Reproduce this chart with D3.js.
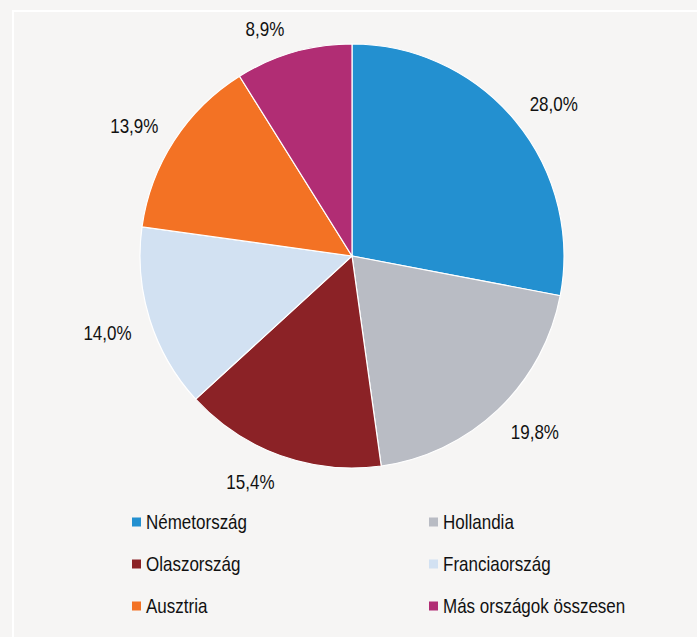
<!DOCTYPE html>
<html>
<head>
<meta charset="utf-8">
<script src="https://cdn.jsdelivr.net/npm/d3@7"></script>
<style>
  html, body { margin: 0; padding: 0; background: #f6f5f4; }
  svg { display: block; }
  text { font-family: "Liberation Sans", Arial, sans-serif; fill: #111; }
</style>
</head>
<body>
<svg id="chart"></svg>
<script>
var width = 697;
var height = 637;

// data
var countries = ['Németország', 'Hollandia', 'Olaszország', 'Franciaország', 'Ausztria', 'Más országok összesen'];
var shares = [28.0, 19.8, 15.4, 14.0, 13.9, 8.9];
var colors = ['#2390d0', '#b9bcc4', '#8b2226', '#d2e1f2', '#f37224', '#b12d74'];

var svg = d3.select('#chart')
    .attr('width', width)
    .attr('height', height)

// white frame lines on top and left
svg.append('line')
    .attr('x1', 12).attr('x2', width)
    .attr('y1', 11).attr('y2', 11)
    .style('stroke', '#fff')
    .style('stroke-width', 2)
svg.append('line')
    .attr('x1', 13).attr('x2', 13)
    .attr('y1', 10).attr('y2', height)
    .style('stroke', '#fff')
    .style('stroke-width', 2)

var cx = 352, cy = 256, radius = 212;
var narrow = 0.85; // the original font is a condensed one

var pie = d3.pie()
    .sort(null)
    .value(function(d){ return d; });

var arc = d3.arc()
    .innerRadius(0)
    .outerRadius(radius);

var arcs = pie(shares);

var g = svg.append('g')
    .attr('transform', 'translate(' + cx + ',' + cy + ')')

g.selectAll('path')
    .data(arcs)
    .enter()
    .append('path')
    .attr('d', arc)
    .style('fill', function(d, i){ return colors[i]; })
    .style('stroke', '#fff')
    .style('stroke-width', 1.2)

function fmt(v){
    return v.toFixed(1).replace('.', ',') + '%';
}

// excel style "outside end": anchor just past the rim, box hangs off it diagonally
function labelPos(d){
    var a = (d.startAngle + d.endAngle) / 2;
    var r = radius + 20;
    var x = r * Math.sin(a) + 23 * Math.sign(Math.sin(a));
    var y = -r * Math.cos(a) - 6 * Math.sign(Math.cos(a)) + 2;
    return [x, y];
}

g.selectAll('g.lbl')
    .data(arcs)
    .enter()
    .append('g')
    .attr('class', 'lbl')
    .attr('transform', function(d){
        var p = labelPos(d);
        return 'translate(' + p[0] + ',' + p[1] + ') scale(' + narrow + ',1)';
    })
    .append('text')
    .attr('text-anchor', 'middle')
    .attr('dominant-baseline', 'central')
    .style('font-size', '20px')
    .text(function(d){ return fmt(d.data); })

// legend, two columns
var legend = svg.append('g')
var colX = [132, 429];
var rowY = [522, 564, 606];

var item = legend.selectAll('g')
    .data(countries)
    .enter()
    .append('g')
    .attr('transform', function(d, i){
        return 'translate(' + colX[i % 2] + ',' + rowY[Math.floor(i / 2)] + ')';
    })

item.append('rect')
    .attr('x', 0)
    .attr('y', -4.5)
    .attr('width', 9)
    .attr('height', 9)
    .style('fill', function(d, i){ return colors[i]; })

item.append('text')
    .attr('transform', 'translate(14,0) scale(' + narrow + ',1)')
    .attr('dominant-baseline', 'central')
    .style('font-size', '20px')
    .text(function(d){ return d; })
</script>
</body>
</html>
